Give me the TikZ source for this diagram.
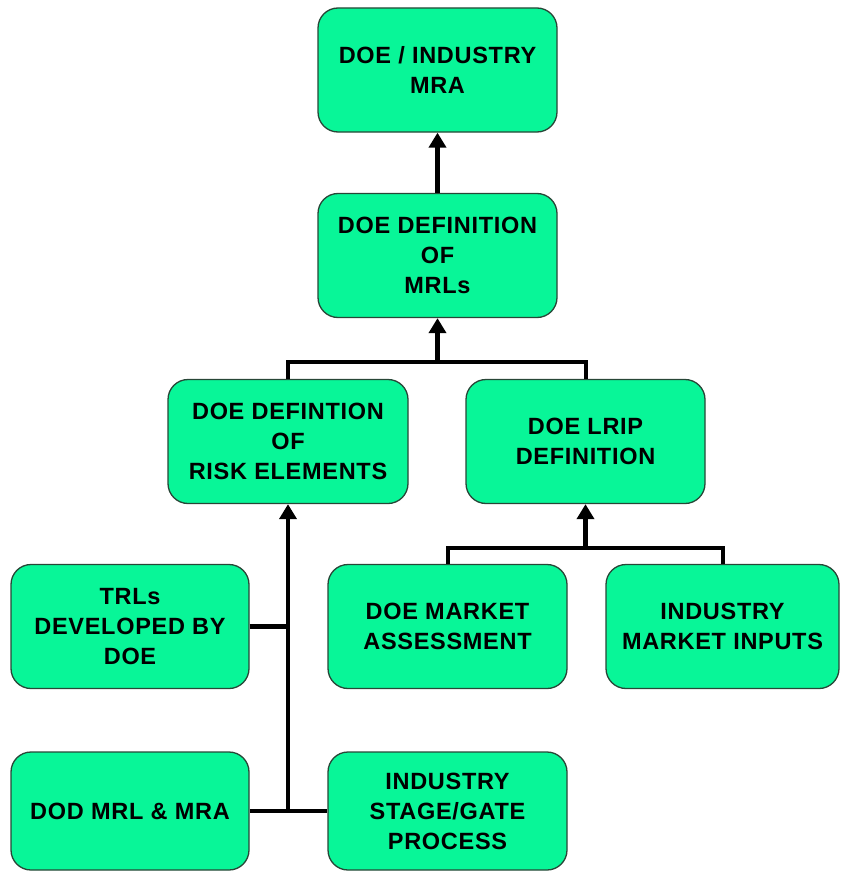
\documentclass[tikz,border=0pt]{standalone}
\usepackage{fontspec}
\setmainfont{Liberation Sans}
\newfontfamily\boxfont[LetterSpace=3]{Liberation Sans}
\usetikzlibrary{arrows.meta}
\definecolor{boxgreen}{RGB}{8,246,152}
\definecolor{boxedge}{RGB}{40,70,55}
\begin{document}
\begin{tikzpicture}[x=1pt,y=-1pt,
  box/.style={draw=boxedge, line width=1.3pt, fill=boxgreen, rounded corners=20pt,
    minimum width=239pt, minimum height=124pt, inner sep=0pt, align=center,
    font=\boxfont\fontsize{23.5}{30}\selectfont\bfseries},
  tree/.style={line width=4pt, line join=miter},
  arr/.style={line width=4.8pt, -{Triangle[width=17pt,length=15pt]}}]
\useasboundingbox (0,0) rectangle (840,872);
\node[box] (b1) at (437.5,70) {DOE / INDUSTRY\\MRA};
\node[box] (b2) at (437.5,255.5) {DOE DEFINITION\\OF\\MRLs};
\node[box, minimum width=240pt] (b3) at (288,441.5) {DOE DEFINTION\\OF\\RISK ELEMENTS};
\node[box] (b4) at (585.5,441.5) {DOE LRIP\\DEFINITION};
\node[box, minimum width=238pt] (b5) at (130,626.5) {TRLs\\DEVELOPED BY\\DOE};
\node[box] (b8) at (447.5,626.5) {DOE MARKET\\ASSESSMENT};
\node[box, minimum width=233pt] (b9) at (722.5,626.5) {INDUSTRY\\MARKET INPUTS};
\node[box, minimum width=238pt, minimum height=118pt] (b6) at (130,811) {DOD MRL \& MRA};
\node[box, minimum height=118pt] (b7) at (447.5,811) {INDUSTRY\\STAGE/GATE\\PROCESS};
% top arrow
\draw[arr] (b2) -- (b1);
% middle tree
\coordinate (j1) at (437.5,362);
\draw[tree] (b3.north) |- (j1) -| (b4.north);
\draw[arr] (j1) -- (b2.south);
% right tree
\coordinate (j3) at (585.5,548);
\draw[tree] (b8.north) |- (j3) -| (b9.north);
\draw[arr] (j3) -- (b4.south);
% left tree
\coordinate (j2) at (b3.south |- b6.east);
\draw[line width=3.5pt] (b6.east) -- (b7.west);
\draw[line width=5pt] (b5.east) -- (b5.east -| b3.south);
\draw[arr, line width=4.2pt] (j2) -- (b3.south);
\end{tikzpicture}
\end{document}
